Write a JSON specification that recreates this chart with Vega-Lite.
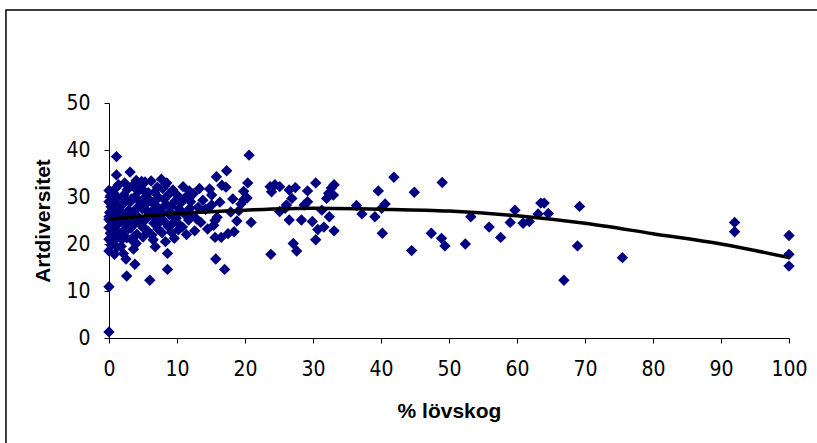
{
  "$schema": "https://vega.github.io/schema/vega-lite/v6.json",
  "width": 680,
  "height": 235,
  "autosize": {"type": "none"},
  "padding": {"left": 109, "top": 103, "right": 28, "bottom": 105},
  "background": "white",
  "config": {"view": {"stroke": null}, "font": "Liberation Sans"},
  "datasets": {
    "points": [
      {"lovskog": 1.1, "art": 38.6}, {"lovskog": 20.6, "art": 38.9}, {"lovskog": 1.1, "art": 34.7}, {"lovskog": 3.1, "art": 35.3},
      {"lovskog": 17.3, "art": 35.6}, {"lovskog": 15.8, "art": 34.3}, {"lovskog": 20.4, "art": 33.0}, {"lovskog": 24.4, "art": 32.6},
      {"lovskog": 23.9, "art": 31.1}, {"lovskog": 26.5, "art": 31.5}, {"lovskog": 0, "art": 10.9}, {"lovskog": 0, "art": 1.3},
      {"lovskog": 2.6, "art": 13.2}, {"lovskog": 6.0, "art": 12.3}, {"lovskog": 8.6, "art": 14.6}, {"lovskog": 17.0, "art": 14.6},
      {"lovskog": 15.7, "art": 16.8}, {"lovskog": 8.6, "art": 18.0}, {"lovskog": 2.5, "art": 16.8}, {"lovskog": 3.8, "art": 15.7},
      {"lovskog": 3.6, "art": 18.9}, {"lovskog": 4.0, "art": 20.1}, {"lovskog": 23.8, "art": 17.8}, {"lovskog": 20.9, "art": 24.6},
      {"lovskog": 18.4, "art": 22.6}, {"lovskog": 15.6, "art": 21.4}, {"lovskog": 16.5, "art": 21.4}, {"lovskog": 15.6, "art": 25.0},
      {"lovskog": 15.1, "art": 28.3}, {"lovskog": 9.2, "art": 22.5}, {"lovskog": 6.5, "art": 20.9},
      {"lovskog": 25.1, "art": 32.2}, {"lovskog": 27.4, "art": 32.0}, {"lovskog": 30.4, "art": 33.0}, {"lovskog": 29.2, "art": 31.3},
      {"lovskog": 26.9, "art": 29.7}, {"lovskog": 29.2, "art": 29.0}, {"lovskog": 28.7, "art": 28.3}, {"lovskog": 33.1, "art": 32.6},
      {"lovskog": 32.7, "art": 31.9}, {"lovskog": 32.3, "art": 30.8}, {"lovskog": 33.0, "art": 30.4}, {"lovskog": 32.0, "art": 29.7},
      {"lovskog": 25.9, "art": 27.6}, {"lovskog": 25.1, "art": 26.9}, {"lovskog": 26.5, "art": 25.1}, {"lovskog": 28.3, "art": 25.1},
      {"lovskog": 29.9, "art": 24.8}, {"lovskog": 31.3, "art": 27.2}, {"lovskog": 32.4, "art": 25.8}, {"lovskog": 30.7, "art": 23.1},
      {"lovskog": 31.6, "art": 23.6}, {"lovskog": 33.1, "art": 22.8}, {"lovskog": 30.4, "art": 20.9}, {"lovskog": 27.1, "art": 20.1},
      {"lovskog": 27.6, "art": 18.5}, {"lovskog": 41.9, "art": 34.2}, {"lovskog": 39.6, "art": 31.3}, {"lovskog": 40.6, "art": 28.5},
      {"lovskog": 40.1, "art": 27.6}, {"lovskog": 36.4, "art": 28.2}, {"lovskog": 37.2, "art": 26.4}, {"lovskog": 39.1, "art": 25.8},
      {"lovskog": 40.2, "art": 22.3}, {"lovskog": 44.9, "art": 31.0}, {"lovskog": 49.0, "art": 33.1}, {"lovskog": 44.5, "art": 18.6},
      {"lovskog": 47.4, "art": 22.3}, {"lovskog": 48.9, "art": 21.2}, {"lovskog": 49.4, "art": 19.6}, {"lovskog": 52.4, "art": 20.0},
      {"lovskog": 53.2, "art": 25.8}, {"lovskog": 55.9, "art": 23.6}, {"lovskog": 57.6, "art": 21.4}, {"lovskog": 59.0, "art": 24.6},
      {"lovskog": 59.7, "art": 27.2}, {"lovskog": 60.9, "art": 24.4}, {"lovskog": 61.8, "art": 24.8},
      {"lovskog": 63.1, "art": 26.4}, {"lovskog": 63.5, "art": 28.7}, {"lovskog": 64.0, "art": 28.7}, {"lovskog": 64.6, "art": 26.5},
      {"lovskog": 69.2, "art": 28.0}, {"lovskog": 68.9, "art": 19.6}, {"lovskog": 66.9, "art": 12.3}, {"lovskog": 75.5, "art": 17.1},
      {"lovskog": 92, "art": 24.6}, {"lovskog": 92, "art": 22.6}, {"lovskog": 100, "art": 21.8}, {"lovskog": 100, "art": 17.8},
      {"lovskog": 100, "art": 15.3},
      {"lovskog": 0, "art": 18.5}, {"lovskog": 0.3, "art": 19.8}, {"lovskog": 0, "art": 21.0}, {"lovskog": 0.2, "art": 22.3},
      {"lovskog": 0, "art": 23.5}, {"lovskog": 0.4, "art": 24.6}, {"lovskog": 0, "art": 25.8}, {"lovskog": 0.1, "art": 26.7},
      {"lovskog": 0.3, "art": 27.9}, {"lovskog": 0, "art": 29.0}, {"lovskog": 0.2, "art": 30.2}, {"lovskog": 0, "art": 31.4},
      {"lovskog": 0.5, "art": 28.5}, {"lovskog": 0, "art": 25.2}, {"lovskog": 0.4, "art": 20.4},
      {"lovskog": 0.8, "art": 17.8}, {"lovskog": 1.2, "art": 19.3}, {"lovskog": 0.7, "art": 20.6}, {"lovskog": 1.4, "art": 22.0},
      {"lovskog": 0.9, "art": 23.1}, {"lovskog": 1.3, "art": 24.2}, {"lovskog": 0.6, "art": 25.5}, {"lovskog": 1.1, "art": 26.3},
      {"lovskog": 1.5, "art": 27.4}, {"lovskog": 0.8, "art": 28.6}, {"lovskog": 1.2, "art": 29.7}, {"lovskog": 0.7, "art": 30.8},
      {"lovskog": 1.0, "art": 31.9}, {"lovskog": 1.4, "art": 32.6}, {"lovskog": 0.9, "art": 27.0}, {"lovskog": 1.3, "art": 24.8},
      {"lovskog": 2.1, "art": 18.0}, {"lovskog": 1.8, "art": 19.5}, {"lovskog": 2.6, "art": 21.3}, {"lovskog": 2.0, "art": 22.6},
      {"lovskog": 2.8, "art": 23.8}, {"lovskog": 1.7, "art": 25.0}, {"lovskog": 2.4, "art": 26.1}, {"lovskog": 2.9, "art": 27.2},
      {"lovskog": 1.9, "art": 28.3}, {"lovskog": 2.5, "art": 29.4}, {"lovskog": 2.2, "art": 30.5}, {"lovskog": 2.7, "art": 31.6},
      {"lovskog": 2.3, "art": 33.0}, {"lovskog": 1.6, "art": 26.6}, {"lovskog": 2.9, "art": 23.3},
      {"lovskog": 3.4, "art": 20.8}, {"lovskog": 4.1, "art": 22.1}, {"lovskog": 3.2, "art": 23.4}, {"lovskog": 3.9, "art": 24.5},
      {"lovskog": 4.4, "art": 25.6}, {"lovskog": 3.6, "art": 26.8}, {"lovskog": 4.2, "art": 27.8}, {"lovskog": 3.1, "art": 28.9},
      {"lovskog": 3.8, "art": 30.0}, {"lovskog": 4.3, "art": 31.2}, {"lovskog": 3.5, "art": 32.4}, {"lovskog": 4.0, "art": 33.5},
      {"lovskog": 3.3, "art": 29.6},
      {"lovskog": 5.0, "art": 21.5}, {"lovskog": 5.7, "art": 22.8}, {"lovskog": 4.7, "art": 24.0}, {"lovskog": 5.4, "art": 25.2},
      {"lovskog": 5.9, "art": 26.3}, {"lovskog": 4.9, "art": 27.5}, {"lovskog": 5.5, "art": 28.6}, {"lovskog": 5.2, "art": 29.8},
      {"lovskog": 5.8, "art": 30.9}, {"lovskog": 4.6, "art": 32.0}, {"lovskog": 5.3, "art": 33.2}, {"lovskog": 5.6, "art": 27.0},
      {"lovskog": 4.8, "art": 24.7},
      {"lovskog": 6.8, "art": 19.4}, {"lovskog": 6.3, "art": 21.9}, {"lovskog": 7.2, "art": 23.2}, {"lovskog": 6.6, "art": 24.4},
      {"lovskog": 7.4, "art": 25.6}, {"lovskog": 6.1, "art": 26.7}, {"lovskog": 7.0, "art": 27.7}, {"lovskog": 6.4, "art": 28.8},
      {"lovskog": 7.3, "art": 29.9}, {"lovskog": 6.7, "art": 31.0}, {"lovskog": 7.1, "art": 32.1}, {"lovskog": 6.2, "art": 33.4},
      {"lovskog": 6.9, "art": 28.2},
      {"lovskog": 8.3, "art": 20.5}, {"lovskog": 7.8, "art": 22.4}, {"lovskog": 8.7, "art": 23.7}, {"lovskog": 8.0, "art": 25.0},
      {"lovskog": 8.9, "art": 26.2}, {"lovskog": 7.6, "art": 27.3}, {"lovskog": 8.4, "art": 28.4}, {"lovskog": 8.1, "art": 29.5},
      {"lovskog": 8.8, "art": 30.6}, {"lovskog": 7.9, "art": 31.8}, {"lovskog": 8.5, "art": 33.0}, {"lovskog": 7.7, "art": 26.7},
      {"lovskog": 9.6, "art": 21.2}, {"lovskog": 10.2, "art": 23.0}, {"lovskog": 9.3, "art": 24.3}, {"lovskog": 9.9, "art": 25.5},
      {"lovskog": 10.4, "art": 26.9}, {"lovskog": 9.1, "art": 28.0}, {"lovskog": 9.7, "art": 29.1}, {"lovskog": 10.1, "art": 30.3},
      {"lovskog": 9.4, "art": 31.5}, {"lovskog": 10.3, "art": 27.5},
      {"lovskog": 11.4, "art": 22.0}, {"lovskog": 10.8, "art": 23.6}, {"lovskog": 11.7, "art": 25.1}, {"lovskog": 11.1, "art": 26.4},
      {"lovskog": 11.9, "art": 27.6}, {"lovskog": 10.6, "art": 28.8}, {"lovskog": 11.3, "art": 30.0}, {"lovskog": 11.8, "art": 31.3},
      {"lovskog": 10.9, "art": 32.2},
      {"lovskog": 12.6, "art": 22.8}, {"lovskog": 13.5, "art": 24.6}, {"lovskog": 12.2, "art": 26.2}, {"lovskog": 13.1, "art": 27.8},
      {"lovskog": 13.8, "art": 29.3}, {"lovskog": 12.4, "art": 30.7}, {"lovskog": 13.3, "art": 31.8}, {"lovskog": 12.9, "art": 25.3},
      {"lovskog": 14.5, "art": 23.2}, {"lovskog": 15.9, "art": 25.7}, {"lovskog": 14.2, "art": 27.4}, {"lovskog": 16.3, "art": 28.9},
      {"lovskog": 15.1, "art": 30.4}, {"lovskog": 14.8, "art": 31.7}, {"lovskog": 16.6, "art": 32.5}, {"lovskog": 15.4, "art": 24.0},
      {"lovskog": 17.5, "art": 22.2}, {"lovskog": 18.8, "art": 24.9}, {"lovskog": 17.9, "art": 26.8}, {"lovskog": 19.4, "art": 28.5},
      {"lovskog": 18.2, "art": 29.6}, {"lovskog": 19.8, "art": 31.2}, {"lovskog": 17.2, "art": 32.1}, {"lovskog": 19.1, "art": 27.1},
      {"lovskog": 7.7, "art": 33.8}, {"lovskog": 4.8, "art": 33.3}, {"lovskog": 19.8, "art": 29.4}, {"lovskog": 20.3, "art": 29.8},
      {"lovskog": 23.7, "art": 32.2}, {"lovskog": 26.1, "art": 28.3},
      {"lovskog": 0.5, "art": 23.0}, {"lovskog": 1.9, "art": 21.0}, {"lovskog": 3.7, "art": 21.6}, {"lovskog": 5.1, "art": 23.4},
      {"lovskog": 6.0, "art": 29.3}, {"lovskog": 2.2, "art": 24.4}, {"lovskog": 4.5, "art": 29.0}, {"lovskog": 7.5, "art": 24.8},
      {"lovskog": 9.0, "art": 26.8}, {"lovskog": 10.0, "art": 24.6}, {"lovskog": 1.0, "art": 21.6}, {"lovskog": 3.0, "art": 25.5},
      {"lovskog": 6.5, "art": 26.0}, {"lovskog": 8.2, "art": 32.4}, {"lovskog": 12.0, "art": 29.0}, {"lovskog": 5.0, "art": 31.5}
    ],
    "trend": [
      {"lovskog": 0, "art": 25.3}, {"lovskog": 10, "art": 26.5}, {"lovskog": 20, "art": 27.2}, {"lovskog": 30, "art": 27.6},
      {"lovskog": 40, "art": 27.4}, {"lovskog": 50, "art": 27.0}, {"lovskog": 60, "art": 26.0}, {"lovskog": 70, "art": 24.4},
      {"lovskog": 80, "art": 22.2}, {"lovskog": 90, "art": 20.0}, {"lovskog": 100, "art": 17.1}
    ]
  },
  "layer": [
    {
      "data": {"values": [{}]},
      "mark": {"type": "rect", "fill": "transparent", "stroke": "black", "strokeWidth": 1.5, "clip": false},
      "encoding": {
        "x": {"datum": -15.15, "type": "quantitative", "scale": {"domain": [0, 100]}},
        "x2": {"datum": 110},
        "y": {"datum": 69.8, "type": "quantitative", "scale": {"domain": [0, 50]}},
        "y2": {"datum": -25}
      }
    },
    {
      "data": {"name": "points"},
      "mark": {"type": "point", "shape": "diamond", "filled": true, "color": "#000080", "size": 130, "opacity": 1},
      "encoding": {
        "x": {
          "field": "lovskog", "type": "quantitative",
          "scale": {"domain": [0, 100]},
          "axis": {
            "title": "% lövskog", "values": [0, 10, 20, 30, 40, 50, 60, 70, 80, 90, 100],
            "grid": false, "domainColor": "black", "tickColor": "black", "tickSize": 5,
            "labelFont": "Liberation Sans Narrow, DejaVu Sans Condensed, Liberation Sans",
            "labelFontSize": 21, "labelColor": "black", "labelPadding": 15, "labelFlush": false, "labelOverlap": false,
            "titleFont": "Liberation Sans", "titleFontSize": 21, "titleFontWeight": "bold", "titleColor": "black", "titlePadding": 21
          }
        },
        "y": {
          "field": "art", "type": "quantitative",
          "scale": {"domain": [0, 50]},
          "axis": {
            "title": "Artdiversitet", "values": [0, 10, 20, 30, 40, 50],
            "grid": false, "domainColor": "black", "tickColor": "black", "tickSize": 5,
            "labelFont": "Liberation Sans Narrow, DejaVu Sans Condensed, Liberation Sans",
            "labelFontSize": 21, "labelColor": "black", "labelPadding": 14, "labelOverlap": false,
            "titleFont": "Liberation Sans", "titleFontSize": 21, "titleFontWeight": "bold", "titleColor": "black", "titlePadding": 12
          }
        }
      }
    },
    {
      "data": {"name": "trend"},
      "mark": {"type": "line", "color": "black", "strokeWidth": 3.5, "interpolate": "monotone"},
      "encoding": {
        "x": {"field": "lovskog", "type": "quantitative"},
        "y": {"field": "art", "type": "quantitative"}
      }
    }
  ]
}
